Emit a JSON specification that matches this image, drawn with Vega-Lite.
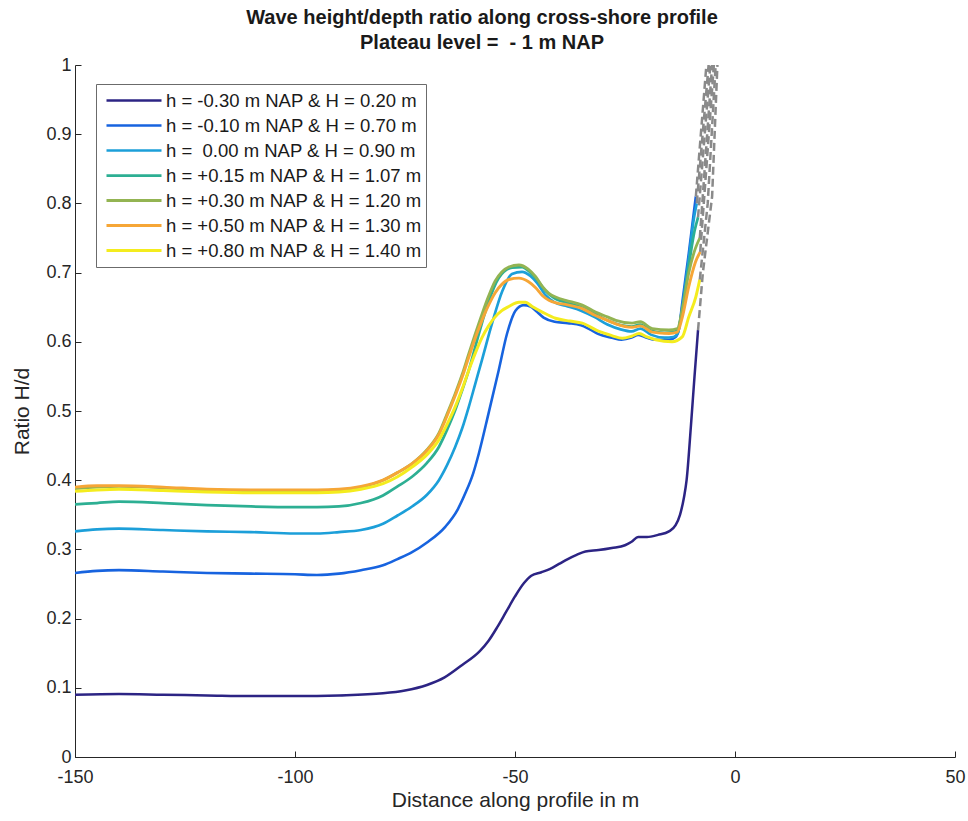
{
  "$schema": "https://vega.github.io/schema/vega-lite/v6.json",
  "width": 880,
  "height": 692,
  "autosize": "none",
  "padding": {"left": 75, "top": 65, "right": 13, "bottom": 64},
  "background": "white",
  "title": {
    "text": ["Wave height/depth ratio along cross-shore profile", "Plateau level =\u00a0 - 1 m NAP"],
    "font": "Liberation Sans",
    "fontSize": 20,
    "fontWeight": "bold",
    "color": "#1a1a1a",
    "lineHeight": 25,
    "anchor": "middle",
    "dx": -33,
    "offset": 3
  },
  "config": {
    "view": {"stroke": null},
    "axis": {
      "grid": false,
      "domainColor": "#262626",
      "tickColor": "#262626",
      "labelColor": "#262626",
      "titleColor": "#262626",
      "labelFont": "Liberation Sans",
      "titleFont": "Liberation Sans",
      "labelFontSize": 18,
      "titleFontSize": 21,
      "titleFontWeight": "normal",
      "tickSize": -6,
      "tickWidth": 1
    },
    "legend": {
      "labelFont": "Liberation Sans",
      "labelFontSize": 18.5,
      "labelColor": "#1a1a1a"
    }
  },
  "datasets": {
    "lines": [
      {"s":"h = -0.30 m NAP & H = 0.20 m","x":-150,"y":0.090},
      {"s":"h = -0.30 m NAP & H = 0.20 m","x":-140,"y":0.091},
      {"s":"h = -0.30 m NAP & H = 0.20 m","x":-130,"y":0.090},
      {"s":"h = -0.30 m NAP & H = 0.20 m","x":-120,"y":0.089},
      {"s":"h = -0.30 m NAP & H = 0.20 m","x":-110,"y":0.088},
      {"s":"h = -0.30 m NAP & H = 0.20 m","x":-100,"y":0.088},
      {"s":"h = -0.30 m NAP & H = 0.20 m","x":-90,"y":0.089},
      {"s":"h = -0.30 m NAP & H = 0.20 m","x":-80,"y":0.092},
      {"s":"h = -0.30 m NAP & H = 0.20 m","x":-75,"y":0.096},
      {"s":"h = -0.30 m NAP & H = 0.20 m","x":-70,"y":0.104},
      {"s":"h = -0.30 m NAP & H = 0.20 m","x":-66,"y":0.115},
      {"s":"h = -0.30 m NAP & H = 0.20 m","x":-62,"y":0.133},
      {"s":"h = -0.30 m NAP & H = 0.20 m","x":-58,"y":0.153},
      {"s":"h = -0.30 m NAP & H = 0.20 m","x":-56,"y":0.168},
      {"s":"h = -0.30 m NAP & H = 0.20 m","x":-54,"y":0.188},
      {"s":"h = -0.30 m NAP & H = 0.20 m","x":-52,"y":0.210},
      {"s":"h = -0.30 m NAP & H = 0.20 m","x":-50,"y":0.232},
      {"s":"h = -0.30 m NAP & H = 0.20 m","x":-48,"y":0.251},
      {"s":"h = -0.30 m NAP & H = 0.20 m","x":-46.3,"y":0.262},
      {"s":"h = -0.30 m NAP & H = 0.20 m","x":-44,"y":0.267},
      {"s":"h = -0.30 m NAP & H = 0.20 m","x":-42,"y":0.272},
      {"s":"h = -0.30 m NAP & H = 0.20 m","x":-40,"y":0.279},
      {"s":"h = -0.30 m NAP & H = 0.20 m","x":-38,"y":0.286},
      {"s":"h = -0.30 m NAP & H = 0.20 m","x":-36,"y":0.292},
      {"s":"h = -0.30 m NAP & H = 0.20 m","x":-34,"y":0.297},
      {"s":"h = -0.30 m NAP & H = 0.20 m","x":-31,"y":0.299},
      {"s":"h = -0.30 m NAP & H = 0.20 m","x":-28,"y":0.302},
      {"s":"h = -0.30 m NAP & H = 0.20 m","x":-25,"y":0.306},
      {"s":"h = -0.30 m NAP & H = 0.20 m","x":-23.5,"y":0.311},
      {"s":"h = -0.30 m NAP & H = 0.20 m","x":-22,"y":0.318},
      {"s":"h = -0.30 m NAP & H = 0.20 m","x":-20,"y":0.318},
      {"s":"h = -0.30 m NAP & H = 0.20 m","x":-17.5,"y":0.321},
      {"s":"h = -0.30 m NAP & H = 0.20 m","x":-15,"y":0.326},
      {"s":"h = -0.30 m NAP & H = 0.20 m","x":-13.5,"y":0.335},
      {"s":"h = -0.30 m NAP & H = 0.20 m","x":-12.5,"y":0.350},
      {"s":"h = -0.30 m NAP & H = 0.20 m","x":-11.6,"y":0.375},
      {"s":"h = -0.30 m NAP & H = 0.20 m","x":-11,"y":0.400},
      {"s":"h = -0.30 m NAP & H = 0.20 m","x":-10,"y":0.480},
      {"s":"h = -0.30 m NAP & H = 0.20 m","x":-9.2,"y":0.550},
      {"s":"h = -0.30 m NAP & H = 0.20 m","x":-8.4,"y":0.617},

      {"s":"h = -0.10 m NAP & H = 0.70 m","x":-150,"y":0.266},
      {"s":"h = -0.10 m NAP & H = 0.70 m","x":-145,"y":0.269},
      {"s":"h = -0.10 m NAP & H = 0.70 m","x":-140,"y":0.270},
      {"s":"h = -0.10 m NAP & H = 0.70 m","x":-130,"y":0.268},
      {"s":"h = -0.10 m NAP & H = 0.70 m","x":-120,"y":0.266},
      {"s":"h = -0.10 m NAP & H = 0.70 m","x":-110,"y":0.265},
      {"s":"h = -0.10 m NAP & H = 0.70 m","x":-100,"y":0.264},
      {"s":"h = -0.10 m NAP & H = 0.70 m","x":-95,"y":0.263},
      {"s":"h = -0.10 m NAP & H = 0.70 m","x":-90,"y":0.265},
      {"s":"h = -0.10 m NAP & H = 0.70 m","x":-85,"y":0.270},
      {"s":"h = -0.10 m NAP & H = 0.70 m","x":-80,"y":0.277},
      {"s":"h = -0.10 m NAP & H = 0.70 m","x":-76.7,"y":0.286},
      {"s":"h = -0.10 m NAP & H = 0.70 m","x":-73.4,"y":0.296},
      {"s":"h = -0.10 m NAP & H = 0.70 m","x":-70,"y":0.310},
      {"s":"h = -0.10 m NAP & H = 0.70 m","x":-65.8,"y":0.333},
      {"s":"h = -0.10 m NAP & H = 0.70 m","x":-63,"y":0.358},
      {"s":"h = -0.10 m NAP & H = 0.70 m","x":-61.3,"y":0.381},
      {"s":"h = -0.10 m NAP & H = 0.70 m","x":-59.5,"y":0.410},
      {"s":"h = -0.10 m NAP & H = 0.70 m","x":-58.2,"y":0.439},
      {"s":"h = -0.10 m NAP & H = 0.70 m","x":-56,"y":0.497},
      {"s":"h = -0.10 m NAP & H = 0.70 m","x":-53.7,"y":0.559},
      {"s":"h = -0.10 m NAP & H = 0.70 m","x":-51.8,"y":0.612},
      {"s":"h = -0.10 m NAP & H = 0.70 m","x":-49.9,"y":0.645},
      {"s":"h = -0.10 m NAP & H = 0.70 m","x":-48,"y":0.653},
      {"s":"h = -0.10 m NAP & H = 0.70 m","x":-46.5,"y":0.651},
      {"s":"h = -0.10 m NAP & H = 0.70 m","x":-45.3,"y":0.645},
      {"s":"h = -0.10 m NAP & H = 0.70 m","x":-43.5,"y":0.635},
      {"s":"h = -0.10 m NAP & H = 0.70 m","x":-41,"y":0.629},
      {"s":"h = -0.10 m NAP & H = 0.70 m","x":-38,"y":0.627},
      {"s":"h = -0.10 m NAP & H = 0.70 m","x":-35,"y":0.624},
      {"s":"h = -0.10 m NAP & H = 0.70 m","x":-33,"y":0.618},
      {"s":"h = -0.10 m NAP & H = 0.70 m","x":-31,"y":0.611},
      {"s":"h = -0.10 m NAP & H = 0.70 m","x":-28,"y":0.606},
      {"s":"h = -0.10 m NAP & H = 0.70 m","x":-25.8,"y":0.603},
      {"s":"h = -0.10 m NAP & H = 0.70 m","x":-23.5,"y":0.606},
      {"s":"h = -0.10 m NAP & H = 0.70 m","x":-22,"y":0.610},
      {"s":"h = -0.10 m NAP & H = 0.70 m","x":-20.5,"y":0.607},
      {"s":"h = -0.10 m NAP & H = 0.70 m","x":-18,"y":0.603},
      {"s":"h = -0.10 m NAP & H = 0.70 m","x":-15,"y":0.603},
      {"s":"h = -0.10 m NAP & H = 0.70 m","x":-13.5,"y":0.607},
      {"s":"h = -0.10 m NAP & H = 0.70 m","x":-12.7,"y":0.620},
      {"s":"h = -0.10 m NAP & H = 0.70 m","x":-12,"y":0.656},
      {"s":"h = -0.10 m NAP & H = 0.70 m","x":-10.5,"y":0.728},
      {"s":"h = -0.10 m NAP & H = 0.70 m","x":-9.3,"y":0.790},
      {"s":"h = -0.10 m NAP & H = 0.70 m","x":-8.9,"y":0.810},

      {"s":"h =\u00a0 0.00 m NAP & H = 0.90 m","x":-150,"y":0.326},
      {"s":"h =\u00a0 0.00 m NAP & H = 0.90 m","x":-145,"y":0.329},
      {"s":"h =\u00a0 0.00 m NAP & H = 0.90 m","x":-140,"y":0.330},
      {"s":"h =\u00a0 0.00 m NAP & H = 0.90 m","x":-130,"y":0.328},
      {"s":"h =\u00a0 0.00 m NAP & H = 0.90 m","x":-120,"y":0.326},
      {"s":"h =\u00a0 0.00 m NAP & H = 0.90 m","x":-110,"y":0.325},
      {"s":"h =\u00a0 0.00 m NAP & H = 0.90 m","x":-100,"y":0.323},
      {"s":"h =\u00a0 0.00 m NAP & H = 0.90 m","x":-95,"y":0.323},
      {"s":"h =\u00a0 0.00 m NAP & H = 0.90 m","x":-90,"y":0.325},
      {"s":"h =\u00a0 0.00 m NAP & H = 0.90 m","x":-85,"y":0.328},
      {"s":"h =\u00a0 0.00 m NAP & H = 0.90 m","x":-80,"y":0.337},
      {"s":"h =\u00a0 0.00 m NAP & H = 0.90 m","x":-76.7,"y":0.349},
      {"s":"h =\u00a0 0.00 m NAP & H = 0.90 m","x":-73.4,"y":0.362},
      {"s":"h =\u00a0 0.00 m NAP & H = 0.90 m","x":-70,"y":0.379},
      {"s":"h =\u00a0 0.00 m NAP & H = 0.90 m","x":-67.3,"y":0.400},
      {"s":"h =\u00a0 0.00 m NAP & H = 0.90 m","x":-65.5,"y":0.421},
      {"s":"h =\u00a0 0.00 m NAP & H = 0.90 m","x":-63.6,"y":0.448},
      {"s":"h =\u00a0 0.00 m NAP & H = 0.90 m","x":-62,"y":0.475},
      {"s":"h =\u00a0 0.00 m NAP & H = 0.90 m","x":-60.5,"y":0.506},
      {"s":"h =\u00a0 0.00 m NAP & H = 0.90 m","x":-59,"y":0.540},
      {"s":"h =\u00a0 0.00 m NAP & H = 0.90 m","x":-57.5,"y":0.574},
      {"s":"h =\u00a0 0.00 m NAP & H = 0.90 m","x":-55.2,"y":0.627},
      {"s":"h =\u00a0 0.00 m NAP & H = 0.90 m","x":-52.9,"y":0.673},
      {"s":"h =\u00a0 0.00 m NAP & H = 0.90 m","x":-50.7,"y":0.698},
      {"s":"h =\u00a0 0.00 m NAP & H = 0.90 m","x":-48.4,"y":0.701},
      {"s":"h =\u00a0 0.00 m NAP & H = 0.90 m","x":-46.5,"y":0.695},
      {"s":"h =\u00a0 0.00 m NAP & H = 0.90 m","x":-45,"y":0.685},
      {"s":"h =\u00a0 0.00 m NAP & H = 0.90 m","x":-43,"y":0.667},
      {"s":"h =\u00a0 0.00 m NAP & H = 0.90 m","x":-41,"y":0.657},
      {"s":"h =\u00a0 0.00 m NAP & H = 0.90 m","x":-38.5,"y":0.652},
      {"s":"h =\u00a0 0.00 m NAP & H = 0.90 m","x":-35,"y":0.645},
      {"s":"h =\u00a0 0.00 m NAP & H = 0.90 m","x":-32,"y":0.636},
      {"s":"h =\u00a0 0.00 m NAP & H = 0.90 m","x":-29,"y":0.625},
      {"s":"h =\u00a0 0.00 m NAP & H = 0.90 m","x":-26,"y":0.618},
      {"s":"h =\u00a0 0.00 m NAP & H = 0.90 m","x":-23.5,"y":0.615},
      {"s":"h =\u00a0 0.00 m NAP & H = 0.90 m","x":-21.5,"y":0.619},
      {"s":"h =\u00a0 0.00 m NAP & H = 0.90 m","x":-19,"y":0.610},
      {"s":"h =\u00a0 0.00 m NAP & H = 0.90 m","x":-16,"y":0.606},
      {"s":"h =\u00a0 0.00 m NAP & H = 0.90 m","x":-14,"y":0.607},
      {"s":"h =\u00a0 0.00 m NAP & H = 0.90 m","x":-13,"y":0.612},
      {"s":"h =\u00a0 0.00 m NAP & H = 0.90 m","x":-12,"y":0.650},
      {"s":"h =\u00a0 0.00 m NAP & H = 0.90 m","x":-10.5,"y":0.720},
      {"s":"h =\u00a0 0.00 m NAP & H = 0.90 m","x":-9.3,"y":0.780},
      {"s":"h =\u00a0 0.00 m NAP & H = 0.90 m","x":-8.7,"y":0.800},

      {"s":"h = +0.15 m NAP & H = 1.07 m","x":-150,"y":0.365},
      {"s":"h = +0.15 m NAP & H = 1.07 m","x":-145,"y":0.367},
      {"s":"h = +0.15 m NAP & H = 1.07 m","x":-140,"y":0.369},
      {"s":"h = +0.15 m NAP & H = 1.07 m","x":-130,"y":0.367},
      {"s":"h = +0.15 m NAP & H = 1.07 m","x":-120,"y":0.364},
      {"s":"h = +0.15 m NAP & H = 1.07 m","x":-110,"y":0.362},
      {"s":"h = +0.15 m NAP & H = 1.07 m","x":-100,"y":0.361},
      {"s":"h = +0.15 m NAP & H = 1.07 m","x":-95,"y":0.361},
      {"s":"h = +0.15 m NAP & H = 1.07 m","x":-90,"y":0.362},
      {"s":"h = +0.15 m NAP & H = 1.07 m","x":-85,"y":0.367},
      {"s":"h = +0.15 m NAP & H = 1.07 m","x":-80,"y":0.378},
      {"s":"h = +0.15 m NAP & H = 1.07 m","x":-76.7,"y":0.391},
      {"s":"h = +0.15 m NAP & H = 1.07 m","x":-73.4,"y":0.405},
      {"s":"h = +0.15 m NAP & H = 1.07 m","x":-70,"y":0.425},
      {"s":"h = +0.15 m NAP & H = 1.07 m","x":-67.3,"y":0.448},
      {"s":"h = +0.15 m NAP & H = 1.07 m","x":-65.5,"y":0.472},
      {"s":"h = +0.15 m NAP & H = 1.07 m","x":-63.6,"y":0.501},
      {"s":"h = +0.15 m NAP & H = 1.07 m","x":-62,"y":0.530},
      {"s":"h = +0.15 m NAP & H = 1.07 m","x":-60.5,"y":0.559},
      {"s":"h = +0.15 m NAP & H = 1.07 m","x":-58.2,"y":0.612},
      {"s":"h = +0.15 m NAP & H = 1.07 m","x":-56,"y":0.658},
      {"s":"h = +0.15 m NAP & H = 1.07 m","x":-53.7,"y":0.692},
      {"s":"h = +0.15 m NAP & H = 1.07 m","x":-50.7,"y":0.707},
      {"s":"h = +0.15 m NAP & H = 1.07 m","x":-48.4,"y":0.708},
      {"s":"h = +0.15 m NAP & H = 1.07 m","x":-46.5,"y":0.700},
      {"s":"h = +0.15 m NAP & H = 1.07 m","x":-45,"y":0.690},
      {"s":"h = +0.15 m NAP & H = 1.07 m","x":-43,"y":0.673},
      {"s":"h = +0.15 m NAP & H = 1.07 m","x":-41,"y":0.663},
      {"s":"h = +0.15 m NAP & H = 1.07 m","x":-38.5,"y":0.657},
      {"s":"h = +0.15 m NAP & H = 1.07 m","x":-35,"y":0.650},
      {"s":"h = +0.15 m NAP & H = 1.07 m","x":-32,"y":0.641},
      {"s":"h = +0.15 m NAP & H = 1.07 m","x":-29,"y":0.631},
      {"s":"h = +0.15 m NAP & H = 1.07 m","x":-26,"y":0.624},
      {"s":"h = +0.15 m NAP & H = 1.07 m","x":-23.5,"y":0.622},
      {"s":"h = +0.15 m NAP & H = 1.07 m","x":-21.5,"y":0.625},
      {"s":"h = +0.15 m NAP & H = 1.07 m","x":-19,"y":0.616},
      {"s":"h = +0.15 m NAP & H = 1.07 m","x":-16,"y":0.613},
      {"s":"h = +0.15 m NAP & H = 1.07 m","x":-14,"y":0.614},
      {"s":"h = +0.15 m NAP & H = 1.07 m","x":-13,"y":0.617},
      {"s":"h = +0.15 m NAP & H = 1.07 m","x":-12,"y":0.645},
      {"s":"h = +0.15 m NAP & H = 1.07 m","x":-10.5,"y":0.710},
      {"s":"h = +0.15 m NAP & H = 1.07 m","x":-9.2,"y":0.760},
      {"s":"h = +0.15 m NAP & H = 1.07 m","x":-8.4,"y":0.780},

      {"s":"h = +0.30 m NAP & H = 1.20 m","x":-150,"y":0.388},
      {"s":"h = +0.30 m NAP & H = 1.20 m","x":-145,"y":0.390},
      {"s":"h = +0.30 m NAP & H = 1.20 m","x":-140,"y":0.391},
      {"s":"h = +0.30 m NAP & H = 1.20 m","x":-130,"y":0.389},
      {"s":"h = +0.30 m NAP & H = 1.20 m","x":-120,"y":0.386},
      {"s":"h = +0.30 m NAP & H = 1.20 m","x":-110,"y":0.385},
      {"s":"h = +0.30 m NAP & H = 1.20 m","x":-100,"y":0.385},
      {"s":"h = +0.30 m NAP & H = 1.20 m","x":-95,"y":0.385},
      {"s":"h = +0.30 m NAP & H = 1.20 m","x":-90,"y":0.386},
      {"s":"h = +0.30 m NAP & H = 1.20 m","x":-85,"y":0.390},
      {"s":"h = +0.30 m NAP & H = 1.20 m","x":-80,"y":0.400},
      {"s":"h = +0.30 m NAP & H = 1.20 m","x":-76.7,"y":0.411},
      {"s":"h = +0.30 m NAP & H = 1.20 m","x":-73.4,"y":0.424},
      {"s":"h = +0.30 m NAP & H = 1.20 m","x":-70,"y":0.444},
      {"s":"h = +0.30 m NAP & H = 1.20 m","x":-67.3,"y":0.468},
      {"s":"h = +0.30 m NAP & H = 1.20 m","x":-65.5,"y":0.495},
      {"s":"h = +0.30 m NAP & H = 1.20 m","x":-63.6,"y":0.525},
      {"s":"h = +0.30 m NAP & H = 1.20 m","x":-62,"y":0.553},
      {"s":"h = +0.30 m NAP & H = 1.20 m","x":-60.5,"y":0.583},
      {"s":"h = +0.30 m NAP & H = 1.20 m","x":-59,"y":0.612},
      {"s":"h = +0.30 m NAP & H = 1.20 m","x":-57.5,"y":0.640},
      {"s":"h = +0.30 m NAP & H = 1.20 m","x":-56,"y":0.666},
      {"s":"h = +0.30 m NAP & H = 1.20 m","x":-54.5,"y":0.688},
      {"s":"h = +0.30 m NAP & H = 1.20 m","x":-53,"y":0.701},
      {"s":"h = +0.30 m NAP & H = 1.20 m","x":-51.4,"y":0.708},
      {"s":"h = +0.30 m NAP & H = 1.20 m","x":-49.1,"y":0.711},
      {"s":"h = +0.30 m NAP & H = 1.20 m","x":-47,"y":0.705},
      {"s":"h = +0.30 m NAP & H = 1.20 m","x":-45.3,"y":0.694},
      {"s":"h = +0.30 m NAP & H = 1.20 m","x":-43.8,"y":0.680},
      {"s":"h = +0.30 m NAP & H = 1.20 m","x":-42.3,"y":0.670},
      {"s":"h = +0.30 m NAP & H = 1.20 m","x":-40.5,"y":0.664},
      {"s":"h = +0.30 m NAP & H = 1.20 m","x":-38.5,"y":0.660},
      {"s":"h = +0.30 m NAP & H = 1.20 m","x":-34.7,"y":0.653},
      {"s":"h = +0.30 m NAP & H = 1.20 m","x":-31.7,"y":0.643},
      {"s":"h = +0.30 m NAP & H = 1.20 m","x":-29,"y":0.636},
      {"s":"h = +0.30 m NAP & H = 1.20 m","x":-27.1,"y":0.631},
      {"s":"h = +0.30 m NAP & H = 1.20 m","x":-23.4,"y":0.627},
      {"s":"h = +0.30 m NAP & H = 1.20 m","x":-21.5,"y":0.629},
      {"s":"h = +0.30 m NAP & H = 1.20 m","x":-18.8,"y":0.619},
      {"s":"h = +0.30 m NAP & H = 1.20 m","x":-15,"y":0.617},
      {"s":"h = +0.30 m NAP & H = 1.20 m","x":-13.1,"y":0.619},
      {"s":"h = +0.30 m NAP & H = 1.20 m","x":-12,"y":0.646},
      {"s":"h = +0.30 m NAP & H = 1.20 m","x":-10.5,"y":0.700},
      {"s":"h = +0.30 m NAP & H = 1.20 m","x":-9,"y":0.735},
      {"s":"h = +0.30 m NAP & H = 1.20 m","x":-8,"y":0.750},

      {"s":"h = +0.50 m NAP & H = 1.30 m","x":-150,"y":0.390},
      {"s":"h = +0.50 m NAP & H = 1.30 m","x":-145,"y":0.392},
      {"s":"h = +0.50 m NAP & H = 1.30 m","x":-140,"y":0.392},
      {"s":"h = +0.50 m NAP & H = 1.30 m","x":-130,"y":0.390},
      {"s":"h = +0.50 m NAP & H = 1.30 m","x":-120,"y":0.387},
      {"s":"h = +0.50 m NAP & H = 1.30 m","x":-110,"y":0.386},
      {"s":"h = +0.50 m NAP & H = 1.30 m","x":-100,"y":0.386},
      {"s":"h = +0.50 m NAP & H = 1.30 m","x":-95,"y":0.386},
      {"s":"h = +0.50 m NAP & H = 1.30 m","x":-90,"y":0.387},
      {"s":"h = +0.50 m NAP & H = 1.30 m","x":-85,"y":0.391},
      {"s":"h = +0.50 m NAP & H = 1.30 m","x":-80,"y":0.400},
      {"s":"h = +0.50 m NAP & H = 1.30 m","x":-76.7,"y":0.411},
      {"s":"h = +0.50 m NAP & H = 1.30 m","x":-73.4,"y":0.424},
      {"s":"h = +0.50 m NAP & H = 1.30 m","x":-70,"y":0.443},
      {"s":"h = +0.50 m NAP & H = 1.30 m","x":-67.3,"y":0.466},
      {"s":"h = +0.50 m NAP & H = 1.30 m","x":-65.5,"y":0.492},
      {"s":"h = +0.50 m NAP & H = 1.30 m","x":-63.6,"y":0.522},
      {"s":"h = +0.50 m NAP & H = 1.30 m","x":-62,"y":0.549},
      {"s":"h = +0.50 m NAP & H = 1.30 m","x":-60.5,"y":0.578},
      {"s":"h = +0.50 m NAP & H = 1.30 m","x":-59,"y":0.606},
      {"s":"h = +0.50 m NAP & H = 1.30 m","x":-57.5,"y":0.631},
      {"s":"h = +0.50 m NAP & H = 1.30 m","x":-56,"y":0.653},
      {"s":"h = +0.50 m NAP & H = 1.30 m","x":-54.5,"y":0.671},
      {"s":"h = +0.50 m NAP & H = 1.30 m","x":-53,"y":0.683},
      {"s":"h = +0.50 m NAP & H = 1.30 m","x":-51.4,"y":0.690},
      {"s":"h = +0.50 m NAP & H = 1.30 m","x":-49.1,"y":0.692},
      {"s":"h = +0.50 m NAP & H = 1.30 m","x":-47,"y":0.687},
      {"s":"h = +0.50 m NAP & H = 1.30 m","x":-45.3,"y":0.678},
      {"s":"h = +0.50 m NAP & H = 1.30 m","x":-43.8,"y":0.667},
      {"s":"h = +0.50 m NAP & H = 1.30 m","x":-42.3,"y":0.660},
      {"s":"h = +0.50 m NAP & H = 1.30 m","x":-40.5,"y":0.656},
      {"s":"h = +0.50 m NAP & H = 1.30 m","x":-38.5,"y":0.654},
      {"s":"h = +0.50 m NAP & H = 1.30 m","x":-34.7,"y":0.648},
      {"s":"h = +0.50 m NAP & H = 1.30 m","x":-31.7,"y":0.638},
      {"s":"h = +0.50 m NAP & H = 1.30 m","x":-29,"y":0.631},
      {"s":"h = +0.50 m NAP & H = 1.30 m","x":-27.1,"y":0.626},
      {"s":"h = +0.50 m NAP & H = 1.30 m","x":-23.4,"y":0.621},
      {"s":"h = +0.50 m NAP & H = 1.30 m","x":-21.5,"y":0.623},
      {"s":"h = +0.50 m NAP & H = 1.30 m","x":-18.8,"y":0.614},
      {"s":"h = +0.50 m NAP & H = 1.30 m","x":-15,"y":0.612},
      {"s":"h = +0.50 m NAP & H = 1.30 m","x":-13.1,"y":0.614},
      {"s":"h = +0.50 m NAP & H = 1.30 m","x":-12,"y":0.635},
      {"s":"h = +0.50 m NAP & H = 1.30 m","x":-10.5,"y":0.680},
      {"s":"h = +0.50 m NAP & H = 1.30 m","x":-9,"y":0.715},
      {"s":"h = +0.50 m NAP & H = 1.30 m","x":-7.9,"y":0.730},

      {"s":"h = +0.80 m NAP & H = 1.40 m","x":-150,"y":0.384},
      {"s":"h = +0.80 m NAP & H = 1.40 m","x":-145,"y":0.386},
      {"s":"h = +0.80 m NAP & H = 1.40 m","x":-140,"y":0.387},
      {"s":"h = +0.80 m NAP & H = 1.40 m","x":-130,"y":0.385},
      {"s":"h = +0.80 m NAP & H = 1.40 m","x":-120,"y":0.383},
      {"s":"h = +0.80 m NAP & H = 1.40 m","x":-110,"y":0.382},
      {"s":"h = +0.80 m NAP & H = 1.40 m","x":-100,"y":0.382},
      {"s":"h = +0.80 m NAP & H = 1.40 m","x":-95,"y":0.382},
      {"s":"h = +0.80 m NAP & H = 1.40 m","x":-90,"y":0.383},
      {"s":"h = +0.80 m NAP & H = 1.40 m","x":-85,"y":0.387},
      {"s":"h = +0.80 m NAP & H = 1.40 m","x":-80,"y":0.395},
      {"s":"h = +0.80 m NAP & H = 1.40 m","x":-76.7,"y":0.405},
      {"s":"h = +0.80 m NAP & H = 1.40 m","x":-73.4,"y":0.419},
      {"s":"h = +0.80 m NAP & H = 1.40 m","x":-70,"y":0.437},
      {"s":"h = +0.80 m NAP & H = 1.40 m","x":-67.3,"y":0.458},
      {"s":"h = +0.80 m NAP & H = 1.40 m","x":-65.5,"y":0.480},
      {"s":"h = +0.80 m NAP & H = 1.40 m","x":-63.6,"y":0.506},
      {"s":"h = +0.80 m NAP & H = 1.40 m","x":-62,"y":0.532},
      {"s":"h = +0.80 m NAP & H = 1.40 m","x":-60.5,"y":0.559},
      {"s":"h = +0.80 m NAP & H = 1.40 m","x":-59,"y":0.584},
      {"s":"h = +0.80 m NAP & H = 1.40 m","x":-57.5,"y":0.606},
      {"s":"h = +0.80 m NAP & H = 1.40 m","x":-56,"y":0.623},
      {"s":"h = +0.80 m NAP & H = 1.40 m","x":-54.5,"y":0.636},
      {"s":"h = +0.80 m NAP & H = 1.40 m","x":-53,"y":0.645},
      {"s":"h = +0.80 m NAP & H = 1.40 m","x":-51.4,"y":0.651},
      {"s":"h = +0.80 m NAP & H = 1.40 m","x":-49.1,"y":0.657},
      {"s":"h = +0.80 m NAP & H = 1.40 m","x":-47.6,"y":0.657},
      {"s":"h = +0.80 m NAP & H = 1.40 m","x":-46.1,"y":0.651},
      {"s":"h = +0.80 m NAP & H = 1.40 m","x":-43.8,"y":0.643},
      {"s":"h = +0.80 m NAP & H = 1.40 m","x":-40.8,"y":0.634},
      {"s":"h = +0.80 m NAP & H = 1.40 m","x":-37.5,"y":0.630},
      {"s":"h = +0.80 m NAP & H = 1.40 m","x":-34.7,"y":0.627},
      {"s":"h = +0.80 m NAP & H = 1.40 m","x":-30.9,"y":0.615},
      {"s":"h = +0.80 m NAP & H = 1.40 m","x":-28,"y":0.609},
      {"s":"h = +0.80 m NAP & H = 1.40 m","x":-25.6,"y":0.605},
      {"s":"h = +0.80 m NAP & H = 1.40 m","x":-23.5,"y":0.608},
      {"s":"h = +0.80 m NAP & H = 1.40 m","x":-21.8,"y":0.612},
      {"s":"h = +0.80 m NAP & H = 1.40 m","x":-20,"y":0.607},
      {"s":"h = +0.80 m NAP & H = 1.40 m","x":-18,"y":0.603},
      {"s":"h = +0.80 m NAP & H = 1.40 m","x":-14.3,"y":0.600},
      {"s":"h = +0.80 m NAP & H = 1.40 m","x":-12,"y":0.607},
      {"s":"h = +0.80 m NAP & H = 1.40 m","x":-10.5,"y":0.636},
      {"s":"h = +0.80 m NAP & H = 1.40 m","x":-8.9,"y":0.665},
      {"s":"h = +0.80 m NAP & H = 1.40 m","x":-8.0,"y":0.690}
    ],
    "dashes": [
      {"d":"1","x":-8.4,"y":0.617},
      {"d":"1","x":-7.3,"y":0.700},
      {"d":"1","x":-5.2,"y":0.810},
      {"d":"1","x":-4.0,"y":1.0},
      {"d":"2","x":-8.9,"y":0.810},
      {"d":"2","x":-6.5,"y":1.0},
      {"d":"3","x":-8.7,"y":0.800},
      {"d":"3","x":-6.0,"y":1.0},
      {"d":"4","x":-8.4,"y":0.780},
      {"d":"4","x":-5.6,"y":1.0},
      {"d":"5","x":-8.0,"y":0.750},
      {"d":"5","x":-5.2,"y":1.0},
      {"d":"6","x":-7.9,"y":0.730},
      {"d":"6","x":-4.8,"y":1.0},
      {"d":"7","x":-8.0,"y":0.690},
      {"d":"7","x":-6.2,"y":0.800},
      {"d":"7","x":-4.4,"y":1.0}
    ]
  },
  "layer": [
    {
      "data": {"name": "lines"},
      "mark": {"type": "line", "interpolate": "monotone", "clip": true},
      "encoding": {
        "x": {
          "field": "x", "type": "quantitative",
          "scale": {"domain": [-150, 50], "nice": false, "zero": false},
          "axis": {"values": [-150, -100, -50, 0, 50], "labelExpr": "datum.value + ''", "title": "Distance along profile in m", "labelPadding": 17, "titlePadding": 3, "labelFlush": false}
        },
        "y": {
          "field": "y", "type": "quantitative",
          "scale": {"domain": [0, 1], "nice": false},
          "axis": {"values": [0, 0.1, 0.2, 0.3, 0.4, 0.5, 0.6, 0.7, 0.8, 0.9, 1], "format": ".1~f", "title": "Ratio H/d", "labelPadding": 10, "titlePadding": 13}
        },
        "color": {
          "field": "s", "type": "nominal",
          "scale": {
            "domain": ["h = -0.30 m NAP & H = 0.20 m", "h = -0.10 m NAP & H = 0.70 m", "h =\u00a0 0.00 m NAP & H = 0.90 m", "h = +0.15 m NAP & H = 1.07 m", "h = +0.30 m NAP & H = 1.20 m", "h = +0.50 m NAP & H = 1.30 m", "h = +0.80 m NAP & H = 1.40 m"],
            "range": ["#2c2484", "#1763df", "#1c9fd9", "#2daf93", "#93b452", "#f6a636", "#f4ec1e"]
          },
          "legend": {
            "title": null,
            "orient": "none",
            "legendX": 21,
            "legendY": 19,
            "symbolType": "stroke",
            "symbolSize": 3025,
            "symbolStrokeWidth": 3.5,
            "clipHeight": 25,
            "rowPadding": 0,
            "padding": 4,
            "symbolOffset": 5,
            "labelOffset": 3,
            "labelLimit": 400,
            "strokeColor": "#6b6b6b",
            "fillColor": "white"
          }
        },
        "strokeWidth": {
          "field": "s", "type": "ordinal",
          "scale": {
            "domain": ["h = -0.30 m NAP & H = 0.20 m", "h = -0.10 m NAP & H = 0.70 m", "h =\u00a0 0.00 m NAP & H = 0.90 m", "h = +0.15 m NAP & H = 1.07 m", "h = +0.30 m NAP & H = 1.20 m", "h = +0.50 m NAP & H = 1.30 m", "h = +0.80 m NAP & H = 1.40 m"],
            "range": [2.5, 3, 3, 3.5, 5, 5, 4.5]
          },
          "legend": null
        }
      }
    },
    {
      "data": {"name": "dashes"},
      "mark": {"type": "line", "color": "#8a8a8a", "strokeWidth": 2.5, "strokeDash": [8, 4], "clip": true},
      "encoding": {
        "x": {"field": "x", "type": "quantitative"},
        "y": {"field": "y", "type": "quantitative"},
        "detail": {"field": "d", "type": "nominal"}
      }
    }
  ]
}
